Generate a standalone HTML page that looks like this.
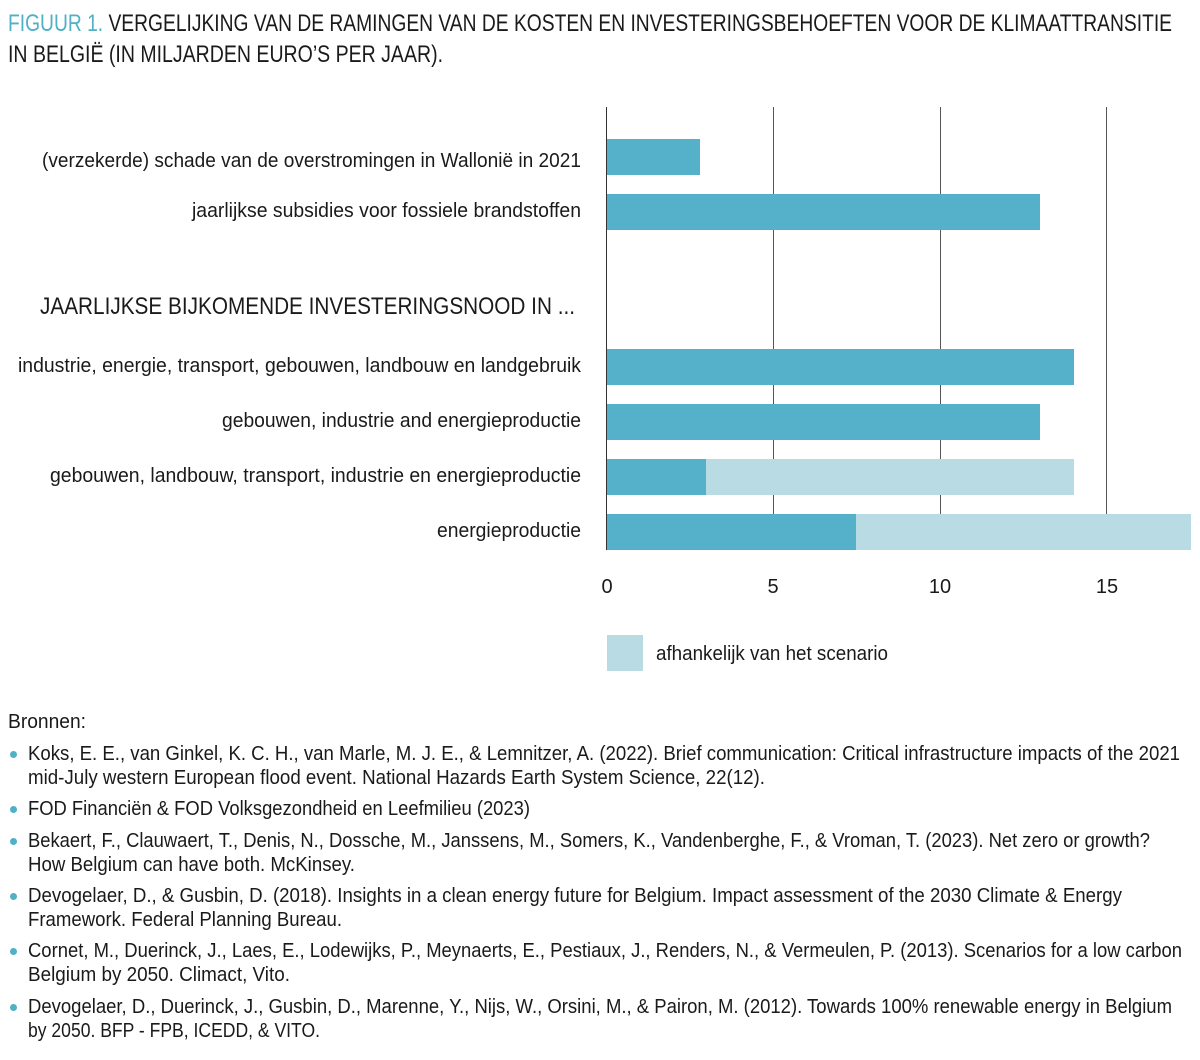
<!DOCTYPE html>
<html><head><meta charset="utf-8"><style>
body{margin:0;width:1200px;height:1060px;background:#fff;font-family:"Liberation Sans",sans-serif;color:#1a1a1a;position:relative;overflow:hidden}
.a{position:absolute;white-space:nowrap;display:inline-block;transform-origin:0 0}
.t{font-size:24px}
.l{font-size:20px}
.bar{position:absolute;background:#55b1c9;height:36px}
.lb{position:absolute;background:#b8dbe4;height:36px}
.g{position:absolute;top:107px;height:443px;width:1px;background:#555}
.tk{position:absolute;font-size:20px;top:576px;width:40px;margin-left:-20px;text-align:center}
.s{font-size:20px}
.d{position:absolute;left:10px;width:7px;height:7px;border-radius:50%;background:#4fb0c6}
</style></head><body>
<div class="a t" id="f0" style="left:8px;top:10px"><span style="color:#4fb0c6">FIGUUR 1.</span> VERGELIJKING VAN DE RAMINGEN VAN DE KOSTEN EN INVESTERINGSBEHOEFTEN VOOR DE KLIMAATTRANSITIE</div>
<div class="a t" id="f1" style="left:8px;top:41px">IN BELGIË (IN MILJARDEN EURO’S PER JAAR).</div>

<div class="g" style="left:773px"></div>
<div class="g" style="left:940px"></div>
<div class="g" style="left:1106px"></div>
<div class="g" style="left:606px;background:#333"></div>

<div class="bar" style="left:607px;top:139px;width:93px"></div>
<div class="bar" style="left:607px;top:194px;width:433px"></div>
<div class="bar" style="left:607px;top:349px;width:467px"></div>
<div class="bar" style="left:607px;top:404px;width:433px"></div>
<div class="lb" style="left:607px;top:459px;width:467px"></div>
<div class="bar" style="left:607px;top:459px;width:99px"></div>
<div class="lb" style="left:607px;top:514px;width:584px"></div>
<div class="bar" style="left:607px;top:514px;width:249px"></div>

<div class="a l" id="f2" style="left:42px;top:150px">(verzekerde) schade van de overstromingen in Wallonië in 2021</div>
<div class="a l" id="f3" style="left:192px;top:200px">jaarlijkse subsidies voor fossiele brandstoffen</div>
<div class="a t" id="f4" style="left:40px;top:293px">JAARLIJKSE BIJKOMENDE INVESTERINGSNOOD IN ...</div>
<div class="a l" id="f5" style="left:18px;top:355px">industrie, energie, transport, gebouwen, landbouw en landgebruik</div>
<div class="a l" id="f6" style="left:222px;top:410px">gebouwen, industrie and energieproductie</div>
<div class="a l" id="f7" style="left:50px;top:465px">gebouwen, landbouw, transport, industrie en energieproductie</div>
<div class="a l" id="f8" style="left:437px;top:520px">energieproductie</div>

<div class="tk" style="left:607px">0</div>
<div class="tk" style="left:773px">5</div>
<div class="tk" style="left:940px">10</div>
<div class="tk" style="left:1107px">15</div>

<div class="lb" style="left:607px;top:635px;width:36px"></div>
<div class="a l" id="f9" style="left:656px;top:643px">afhankelijk van het scenario</div>

<div class="a l" id="f10" style="left:8px;top:711px">Bronnen:</div>
<div class="d" style="top:751px"></div>
<div class="a s" id="f11" style="left:28px;top:743px">Koks, E. E., van Ginkel, K. C. H., van Marle, M. J. E., &amp; Lemnitzer, A. (2022). Brief communication: Critical infrastructure impacts of the 2021</div>
<div class="a s" id="f12" style="left:28px;top:767px">mid-July western European flood event. National Hazards Earth System Science, 22(12).</div>
<div class="d" style="top:806px"></div>
<div class="a s" id="f13" style="left:28px;top:798px">FOD Financiën &amp; FOD Volksgezondheid en Leefmilieu (2023)</div>
<div class="d" style="top:838px"></div>
<div class="a s" id="f14" style="left:28px;top:830px">Bekaert, F., Clauwaert, T., Denis, N., Dossche, M., Janssens, M., Somers, K., Vandenberghe, F., &amp; Vroman, T. (2023). Net zero or growth?</div>
<div class="a s" id="f15" style="left:28px;top:854px">How Belgium can have both. McKinsey.</div>
<div class="d" style="top:893px"></div>
<div class="a s" id="f16" style="left:28px;top:885px">Devogelaer, D., &amp; Gusbin, D. (2018). Insights in a clean energy future for Belgium. Impact assessment of the 2030 Climate &amp; Energy</div>
<div class="a s" id="f17" style="left:28px;top:909px">Framework. Federal Planning Bureau.</div>
<div class="d" style="top:948px"></div>
<div class="a s" id="f18" style="left:28px;top:940px">Cornet, M., Duerinck, J., Laes, E., Lodewijks, P., Meynaerts, E., Pestiaux, J., Renders, N., &amp; Vermeulen, P. (2013). Scenarios for a low carbon</div>
<div class="a s" id="f19" style="left:28px;top:964px">Belgium by 2050. Climact, Vito.</div>
<div class="d" style="top:1004px"></div>
<div class="a s" id="f20" style="left:28px;top:996px">Devogelaer, D., Duerinck, J., Gusbin, D., Marenne, Y., Nijs, W., Orsini, M., &amp; Pairon, M. (2012). Towards 100% renewable energy in Belgium</div>
<div class="a s" id="f21" style="left:28px;top:1020px">by 2050. BFP - FPB, ICEDD, &amp; VITO.</div>
<script>
var W=[1164,435,539,389,535,563,359,531,144,232,78,1152,737,502,1122,327,1094,314,1154,262,1144,292];
for(var i=0;i<W.length;i++){var e=document.getElementById('f'+i);if(!e)continue;var w=e.getBoundingClientRect().width;if(w>0)e.style.transform='scaleX('+(W[i]/w)+')';}
</script>
</body></html>
